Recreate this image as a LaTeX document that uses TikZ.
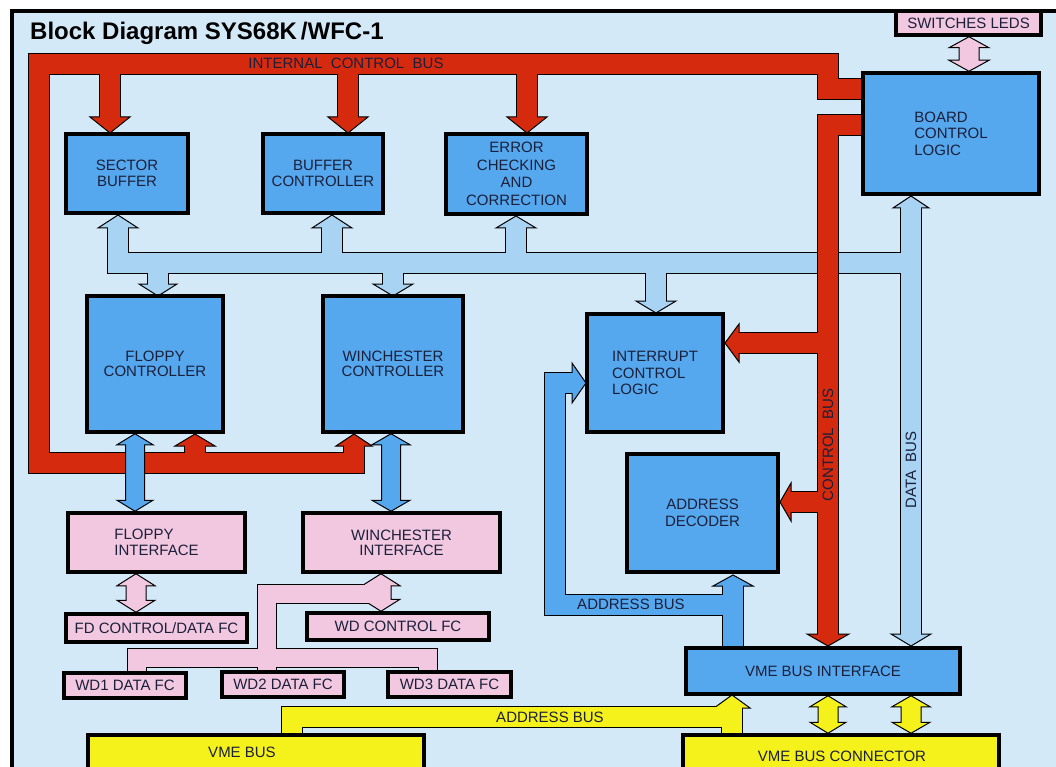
\documentclass[tikz,border=0pt]{standalone}
\usepackage{fontspec}
\setmainfont{Liberation Sans}
\usetikzlibrary{calc}
\pgfdeclarelayer{bg}
\pgfdeclarelayer{buses}
\pgfsetlayers{bg,buses,main}
\definecolor{bgc}{HTML}{D4E9F7}
\definecolor{boxc}{HTML}{55A8EE}
\definecolor{lbc}{HTML}{A8D3F3}
\definecolor{redc}{HTML}{D62A0F}
\definecolor{pinkc}{HTML}{F2C8E0}
\definecolor{yelc}{HTML}{F5F11B}
\definecolor{txtc}{HTML}{1B1F3A}
\newcommand\lbl{\fontsize{15}{16.5}\selectfont}
\tikzset{
  box/.style={draw=black, line width=3.5pt, fill=boxc, inner sep=0pt, text=txtc, font=\lbl, align=center},
  pbox/.style={box, fill=pinkc},
  ybox/.style={box, fill=yelc},
  bustext/.style={inner sep=0pt, text=txtc, font=\lbl},
  bout/.style={draw=black, line width=#1, line join=miter, line cap=butt},
  bin/.style={draw=#1, line join=miter, line cap=butt},
  hd/.style={fill=#1, draw=black, line width=1pt, line join=miter},
}
% box: name, x1, y1, x2, y2, style, text
\newcommand\mkbox[7]{\node[#6, minimum width={(#4-#2)*1pt}, minimum height={(#5-#3)*1pt}] (#1) at ({(#2+#4)/2},{(#3+#5)/2}) {#7};}
% heads: colour, tip x, tip y, half width, length
\newcommand\headU[5]{\filldraw[hd=#1] (#2,#3) -- ({#2+#4},{#3+#5}) -- ({#2-#4},{#3+#5}) -- cycle;}
\newcommand\headD[5]{\filldraw[hd=#1] (#2,#3) -- ({#2+#4},{#3-#5}) -- ({#2-#4},{#3-#5}) -- cycle;}
\newcommand\headL[5]{\filldraw[hd=#1] (#2,#3) -- ({#2+#5},{#3-#4}) -- ({#2+#5},{#3+#4}) -- cycle;}
\newcommand\headR[5]{\filldraw[hd=#1] (#2,#3) -- ({#2-#5},{#3-#4}) -- ({#2-#5},{#3+#4}) -- cycle;}
% vertical double arrow: colour, top node, bottom node, x, stem half, head half, head length
\newcommand\dblarr[7]{\filldraw[hd=#1] let \p1=(#2.south), \p2=(#3.north) in
  (#4pt,\y1) -- ({#4pt+#6pt},{\y1-#7pt}) -- ({#4pt+#5pt},{\y1-#7pt}) -- ({#4pt+#5pt},{\y2+#7pt})
  -- ({#4pt+#6pt},{\y2+#7pt}) -- (#4pt,\y2) -- ({#4pt-#6pt},{\y2+#7pt}) -- ({#4pt-#5pt},{\y2+#7pt})
  -- ({#4pt-#5pt},{\y1-#7pt}) -- ({#4pt-#6pt},{\y1-#7pt}) -- cycle;}
\begin{document}
\begin{tikzpicture}[x=1pt,y=-1pt]
\useasboundingbox (0,0) rectangle (1056,767);
\begin{pgfonlayer}{bg}
  \fill[white] (0,0) rectangle (1056,767);
  \fill[bgc] (12,11.5) rectangle (1062,772);
  \draw[line width=4pt] (12,775) -- (12,11.5) -- (1062,11.5);
\end{pgfonlayer}

% ---------------- boxes ----------------
\mkbox{sw}{896}{11}{1041}{35}{pbox}{SWITCHES LEDS}
\mkbox{bcl}{863}{73}{1039}{194}{box, align=left}{BOARD\\CONTROL\\LOGIC}
\mkbox{sb}{66}{134}{188}{213}{box}{SECTOR\\BUFFER}
\mkbox{bc}{263}{134}{383}{213}{box}{BUFFER\\CONTROLLER}
\mkbox{ecc}{446}{134}{587}{214}{box, font=\fontsize{15}{17.5}\selectfont}{ERROR\\CHECKING\\AND\\CORRECTION}
\mkbox{fc}{87}{296}{223}{432}{box, font=\fontsize{15}{15.5}\selectfont}{FLOPPY\\CONTROLLER}
\mkbox{wc}{323}{296}{463}{432}{box, font=\fontsize{15}{15.5}\selectfont}{WINCHESTER\\CONTROLLER}
\mkbox{icl}{587}{314}{723}{432}{box, align=left}{INTERRUPT\\CONTROL\\LOGIC}
\mkbox{ad}{627}{454}{778}{572}{box}{ADDRESS\\DECODER}
\mkbox{fi}{68}{513}{245}{572}{pbox, align=left}{FLOPPY\\INTERFACE}
\mkbox{wi}{303}{513}{500}{572}{pbox, font=\fontsize{15}{15}\selectfont}{WINCHESTER\\INTERFACE}
\mkbox{fd}{66}{614}{247}{642}{pbox}{FD CONTROL/DATA FC}
\mkbox{wd}{307}{613}{489}{640}{pbox}{WD CONTROL FC}
\mkbox{wda}{64}{673}{186}{698}{pbox}{WD1 DATA FC}
\mkbox{wdb}{222}{672}{344}{697}{pbox}{WD2 DATA FC}
\mkbox{wdc}{388}{672}{511}{697}{pbox}{WD3 DATA FC}
\mkbox{vmei}{686}{648}{960}{694}{box}{VME BUS INTERFACE}
\mkbox{vme}{88}{735}{424}{795}{ybox}{}
\mkbox{vmec}{683}{735}{999}{795}{ybox}{}
\node[bustext] (vmet) at (242,752) {VME BUS};
\node[bustext] (vmect) at (842,756) {VME BUS CONNECTOR};

\node[anchor=base west, inner sep=0pt, font=\fontsize{24}{28}\selectfont\bfseries] (title) at (30,40) {Block Diagram SYS68K\,/WFC-1};

% ---------------- buses ----------------
\def\lbp{(118,226) -- (118,263) -- (911,263) (332,263) -- (332,226) (516,263) -- (516,226)
  (158,263) -- (158,287) (393,263) -- (393,287) (656,263) -- (656,304) (911,206) -- (911,637)}
\def\rdp{(354,444) -- (354,463) -- (39,463) -- (39,64) -- (828,64) -- (828,89) -- (868,89)
  (110,64) -- (110,119) (348,64) -- (348,119) (527,64) -- (527,119) (195,463) -- (195,444)
  (868,125) -- (828,125) -- (828,637) (828,343) -- (737,343) (828,502) -- (789,502)}
\def\abp{(733,652) -- (733,584) (733,605) -- (555,605) -- (555,383) -- (574,383)}
\def\pkp{(381,594) -- (267,594) -- (267,677) (137,677) -- (137,658) -- (428,658) -- (428,677)}
\def\ylp{(292,740) -- (292,717) -- (732,717) -- (732,706) (732,717) -- (732,740)}
\begin{pgfonlayer}{buses}
  % light blue data bus
  \draw[bout=22pt] \lbp;
  \headU{lbc}{118}{215}{20}{13}
  \headU{lbc}{332}{215}{20}{13}
  \headU{lbc}{516}{216}{20}{12}
  \headD{lbc}{158}{296}{19}{12}
  \headD{lbc}{393}{296}{20}{12}
  \headD{lbc}{656}{313}{20}{12}
  \headU{lbc}{911}{196}{18}{12}
  \headD{lbc}{911}{646}{20}{12}
  \draw[bin=lbc, line width=20pt] \lbp;
  % red buses
  \draw[bout=22pt] \rdp;
  \headD{redc}{110}{133}{20}{16}
  \headD{redc}{348}{133}{20}{16}
  \headD{redc}{527}{133}{20}{16}
  \headU{redc}{195}{434}{20}{12}
  \headU{redc}{354}{434}{18}{12}
  \headD{redc}{828}{646}{21}{12}
  \headL{redc}{725}{343}{19}{14}
  \headL{redc}{780}{502}{19}{11}
  \draw[bin=redc, line width=20pt] \rdp;
  % blue address bus
  \draw[bout=22pt] \abp;
  \headU{boxc}{733}{575}{20}{11}
  \headR{boxc}{586}{383}{20}{14}
  \draw[bin=boxc, line width=20pt] \abp;
  % pink drive bus
  \draw[bout=20pt] \pkp;
  \dblarr{pinkc}{wi}{wd}{381}{10}{19}{12}
  \draw[bin=pinkc, line width=18pt] \pkp;
  % yellow address bus
  \draw[bout=22pt] \ylp;
  \headU{yelc}{732}{695}{18}{13}
  \draw[bin=yelc, line width=20pt] \ylp;
  % double arrows
  \dblarr{boxc}{fc}{fi}{135}{9.5}{18}{11}
  \dblarr{boxc}{wc}{wi}{391}{9.5}{19}{11}
  \dblarr{pinkc}{fi}{fd}{136}{10}{19}{12}
  \dblarr{pinkc}{sw}{bcl}{969}{10}{20}{11}
  \dblarr{yelc}{vmei}{vmec}{828}{10}{18}{11}
  \dblarr{yelc}{vmei}{vmec}{911}{10}{19}{11}
\end{pgfonlayer}

% ---------------- bus labels ----------------
\node[bustext] (icbt) at (346,63) {INTERNAL\ \ CONTROL\ \ BUS};
\node[bustext, rotate=90] (cbt) at (828,445) {CONTROL\ \ BUS};
\node[bustext, rotate=90] (dbt) at (911,470) {DATA\ \ BUS};
\node[bustext] (abt) at (631,604) {ADDRESS BUS};
\node[bustext] (yabt) at (550,717) {ADDRESS BUS};
\end{tikzpicture}
\end{document}
